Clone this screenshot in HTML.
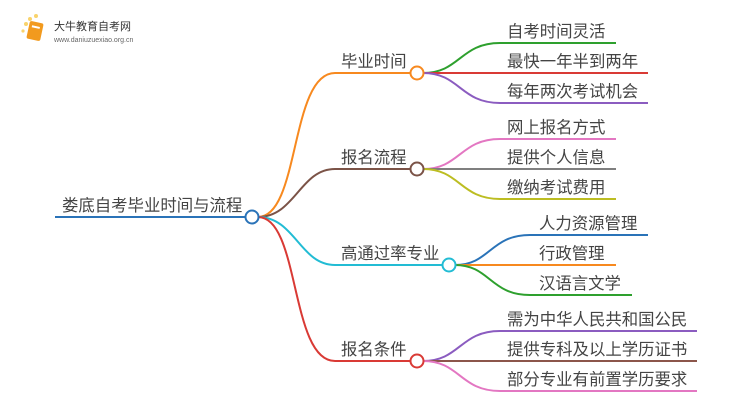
<!DOCTYPE html>
<html><head><meta charset="utf-8"><style>
html,body{margin:0;padding:0;background:#fff;width:750px;height:410px;overflow:hidden}
text{font-family:"Liberation Sans","Noto Sans CJK SC",sans-serif;fill:#444;font-size:16.4px}
</style></head><body>
<svg width="750" height="410" viewBox="0 0 750 410" xmlns="http://www.w3.org/2000/svg">
<g fill="none" stroke-width="2">
<line x1="55" y1="217" x2="245" y2="217" stroke="#2a73b8"/>
<path d="M258 217 C300 217,290 73,335 73 L410 73" stroke="#f7891f"/>
<path d="M258 217 C295 217,300 169,335 169 L410 169" stroke="#7b5347"/>
<path d="M258 217 C295 217,300 265,335 265 L442 265" stroke="#22bcd4"/>
<path d="M258 217 C300 217,290 361,335 361 L410 361" stroke="#d93a35"/>
<path d="M423 73 C460 73,460 43,500 43 L616 43" stroke="#2ea02e"/>
<path d="M423 73 L648 73" stroke="#d93a35"/>
<path d="M423 73 C460 73,460 103,500 103 L648 103" stroke="#8b5cc0"/>
<path d="M423 169 C460 169,460 139,500 139 L616 139" stroke="#e377c2"/>
<path d="M423 169 L616 169" stroke="#7f7f7f"/>
<path d="M423 169 C460 169,460 199,500 199 L616 199" stroke="#bcbd22"/>
<path d="M455 265 C490 265,490 235,530 235 L648 235" stroke="#2a73b8"/>
<path d="M455 265 L616 265" stroke="#f7891f"/>
<path d="M455 265 C490 265,490 295,530 295 L632 295" stroke="#2ea02e"/>
<path d="M423 361 C460 361,460 331,500 331 L697 331" stroke="#8b5cc0"/>
<path d="M423 361 L697 361" stroke="#8c564b"/>
<path d="M423 361 C460 361,460 391,500 391 L697 391" stroke="#e377c2"/>
</g>
<g fill="#fff" stroke-width="2">
<circle cx="252" cy="217" r="6.5" stroke="#2a73b8"/>
<circle cx="417" cy="73" r="6.5" stroke="#f7891f"/>
<circle cx="417" cy="169" r="6.5" stroke="#7b5347"/>
<circle cx="449" cy="265" r="6.5" stroke="#22bcd4"/>
<circle cx="417" cy="361" r="6.5" stroke="#d93a35"/>
</g>
<text x="62" y="211">娄底自考毕业时间与流程</text>
<text x="341" y="67">毕业时间</text>
<text x="341" y="163">报名流程</text>
<text x="341" y="259">高通过率专业</text>
<text x="341" y="355">报名条件</text>
<text x="507" y="37">自考时间灵活</text>
<text x="507" y="67">最快一年半到两年</text>
<text x="507" y="97">每年两次考试机会</text>
<text x="507" y="133">网上报名方式</text>
<text x="507" y="163">提供个人信息</text>
<text x="507" y="193">缴纳考试费用</text>
<text x="539" y="229">人力资源管理</text>
<text x="539" y="259">行政管理</text>
<text x="539" y="289">汉语言文学</text>
<text x="507" y="325">需为中华人民共和国公民</text>
<text x="507" y="355">提供专科及以上学历证书</text>
<text x="507" y="385">部分专业有前置学历要求</text>
<g>
<circle cx="26" cy="24" r="2" fill="#f9d36b"/><circle cx="30" cy="19" r="2" fill="#f9d36b"/>
<circle cx="36" cy="16" r="2" fill="#f9d36b"/><circle cx="23" cy="31" r="1.6" fill="#f9d36b"/>
<rect x="28" y="22" width="14" height="18" rx="2" fill="#f29a1e" transform="rotate(12 35 31)"/>
<rect x="31" y="26" width="8" height="2" fill="#fff" transform="rotate(12 35 31)"/>
<text x="54" y="30" style="font-size:11px;fill:#333">大牛教育自考网</text>
<text x="54" y="42" style="font-size:7px;fill:#666">www.daniuzuexiao.org.cn</text>
</g>
</svg>
</body></html>
